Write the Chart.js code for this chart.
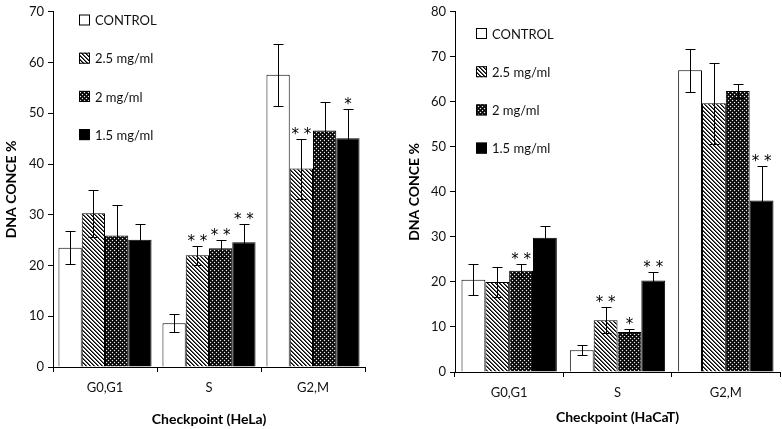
<!DOCTYPE html>
<html><head><meta charset="utf-8">
<script src="https://cdn.jsdelivr.net/npm/chart.js@4"></script>
<style>
body{margin:0;background:#fff;width:782px;height:429px;overflow:hidden;position:relative}
.c{position:absolute;top:0;height:429px}
</style></head><body>
<div class="c" style="left:0;width:372px"><canvas id="a"></canvas></div>
<div class="c" style="left:392px;width:390px"><canvas id="b"></canvas></div>
<script>
// ---- data ----
const categories = ['G0,G1', 'S', 'G2,M'];
const seriesNames = ['CONTROL', '2.5 mg/ml', '2 mg/ml', '1.5 mg/ml'];

const helaControl = [23.5, 8.6, 57.6];
const hela25 = [30.3, 22.0, 39.1];
const hela2 = [25.9, 23.4, 46.6];
const hela15 = [25.1, 24.6, 45.1];
const helaControlErr = [3.3, 1.8, 6.1];
const hela25Err = [4.6, 1.9, 5.9];
const hela2Err = [6.1, 1.7, 5.6];
const hela15Err = [3.0, 3.5, 5.8];
const helaControlStars = ['', '', ''];
const hela25Stars = ['', '* *', '* *'];
const hela2Stars = ['', '* *', ''];
const hela15Stars = ['', '* *', '*'];
const helaTicks = [0, 10, 20, 30, 40, 50, 60, 70];

const hacatControl = [20.5, 4.85, 67.0];
const hacat25 = [20.0, 11.5, 59.7];
const hacat2 = [22.5, 8.9, 62.4];
const hacat15 = [29.8, 20.3, 38.1];
const hacatControlErr = [3.4, 1.1, 4.8];
const hacat25Err = [3.4, 2.9, 9.0];
const hacat2Err = [1.5, 0.7, 1.6];
const hacat15Err = [2.7, 1.8, 7.7];
const hacatControlStars = ['', '', ''];
const hacat25Stars = ['', '* *', ''];
const hacat2Stars = ['* *', '*', ''];
const hacat15Stars = ['', '* *', '* *'];
const hacatTicks = [0, 10, 20, 30, 40, 50, 60, 70, 80];

// ---- patterns ----
function makeTile(fn) {
  const c = document.createElement('canvas'); c.width = 4; c.height = 4;
  const g = c.getContext('2d'); const im = g.createImageData(4, 4);
  for (let y = 0; y < 4; y++) for (let x = 0; x < 4; x++) {
    const v = fn(x, y); const k = (y * 4 + x) * 4;
    im.data[k] = im.data[k + 1] = im.data[k + 2] = v; im.data[k + 3] = 255;
  }
  g.putImageData(im, 0, 0);
  return g.createPattern(c, 'repeat');
}
const diag = makeTile((x, y) => { const d = ((x - y) % 4 + 4) % 4; return d === 0 ? 0 : d === 1 ? 90 : 255; });
const dots = makeTile((x, y) => ((x === 0 && y === 0) || (x === 2 && y === 2)) ? 235 : ((x + y) % 2 === 1 ? 40 : 0));
const fills = ['#ffffff', diag, dots, '#000000'];

const FONT = 'Lato, "Liberation Sans", sans-serif';
const STAR_FONT = '15px "DejaVu Sans", sans-serif';

const errStarPlugin = {
  id: 'errStar',
  afterDatasetsDraw(chart, args, opts) {
    const ctx = chart.ctx, ys = chart.scales.y;
    chart.data.datasets.forEach((ds, i) => {
      const meta = chart.getDatasetMeta(i);
      meta.data.forEach((bar, j) => {
        const v = ds.data[j], e = opts.errors[i][j];
        const top = Math.round(ys.getPixelForValue(v + e)) + 0.5;
        const bot = Math.round(ys.getPixelForValue(v - e)) + 0.5;
        const x = Math.round(bar.x) + 0.5;
        ctx.save();
        ctx.strokeStyle = '#000'; ctx.lineWidth = 1;
        ctx.beginPath();
        ctx.moveTo(x, top); ctx.lineTo(x, bot);
        ctx.moveTo(x - 5, top); ctx.lineTo(x + 5, top);
        ctx.moveTo(x - 5, bot); ctx.lineTo(x + 5, bot);
        ctx.stroke();
        const s = opts.stars[i][j];
        if (s) {
          ctx.fillStyle = '#000';
          ctx.font = STAR_FONT;
          ctx.textAlign = 'center'; ctx.textBaseline = 'alphabetic';
          ctx.fillText(s, bar.x, top - 1);
        }
        ctx.restore();
      });
    });
  }
};

const legendPlugin = {
  id: 'innerLegend',
  afterDraw(chart, args, opts) {
    const ctx = chart.ctx;
    chart.data.datasets.forEach((ds, i) => {
      const y = opts.y + i * opts.gap;
      ctx.save();
      ctx.fillStyle = ds.backgroundColor;
      ctx.fillRect(opts.x, y - 5.5, 11, 11);
      ctx.strokeStyle = '#000'; ctx.lineWidth = 1;
      ctx.strokeRect(opts.x + 0.5, y - 5.5 + 0.5, 10, 10);
      ctx.fillStyle = '#111';
      ctx.font = '13px ' + FONT;
      ctx.textAlign = 'left'; ctx.textBaseline = 'middle';
      ctx.fillText(ds.label, opts.x + 16, y + 1);
      ctx.restore();
    });
  }
};

function build(id, series, errors, stars, ticks, xTitle, cfg) {
  const datasets = series.map((d, i) => ({
    label: seriesNames[i], data: d, backgroundColor: fills[i],
    borderColor: '#000', borderWidth: 1,
    categoryPercentage: cfg.catPct, barPercentage: 1.0
  }));
  return new Chart(document.getElementById(id), {
    type: 'bar',
    data: { labels: categories, datasets },
    options: {
      responsive: true, maintainAspectRatio: false, animation: false,
      layout: { padding: { top: 9, right: cfg.padRight, left: 0, bottom: 0 } },
      plugins: {
        legend: { display: false }, tooltip: { enabled: false },
        errStar: { errors, stars },
        innerLegend: { x: cfg.legX, y: cfg.legY, gap: 38.2 }
      },
      scales: {
        x: {
          grid: { display: true, drawOnChartArea: false, color: '#000', tickLength: 5, offset: true },
          border: { color: '#000', width: 1 },
          ticks: { color: '#111', font: { family: FONT, size: 13 }, padding: 8 },
          title: { display: true, text: xTitle, color: '#000', font: { family: FONT, size: 14, weight: 'bold' }, padding: { top: 0, bottom: cfg.xTitlePad } },
          afterFit: s => { s.height = cfg.xHeight; }
        },
        y: {
          min: 0, max: ticks[ticks.length - 1],
          afterBuildTicks: s => { s.ticks = ticks.map(v => ({ value: v })); },
          grid: { display: true, drawOnChartArea: false, color: '#000', tickLength: 5 },
          border: { color: '#000', width: 1 },
          ticks: { color: '#111', font: { family: FONT, size: 13 }, padding: 4 },
          title: { display: true, text: 'DNA CONCE %', color: '#000', font: { family: FONT, size: 14, weight: 'bold' }, padding: { top: cfg.yTitlePad, bottom: 0 } },
          afterFit: s => { s.width = cfg.yWidth; }
        }
      }
    },
    plugins: [errStarPlugin, legendPlugin]
  });
}

build('a', [helaControl, hela25, hela2, hela15],
  [helaControlErr, hela25Err, hela2Err, hela15Err],
  [helaControlStars, hela25Stars, hela2Stars, hela15Stars],
  helaTicks, 'Checkpoint (HeLa)',
  { catPct: 0.895, padRight: 7, yWidth: 53, xHeight: 62, xTitlePad: 1, yTitlePad: 3.5, legX: 79, legY: 20 });

build('b', [hacatControl, hacat25, hacat2, hacat15],
  [hacatControlErr, hacat25Err, hacat2Err, hacat15Err],
  [hacatControlStars, hacat25Stars, hacat2Stars, hacat15Stars],
  hacatTicks, 'Checkpoint (HaCaT)',
  { catPct: 0.88, padRight: 2, yWidth: 63, xHeight: 57, xTitlePad: 3.5, yTitlePad: 14, legX: 84, legY: 33.5 });
</script>
</body></html>
